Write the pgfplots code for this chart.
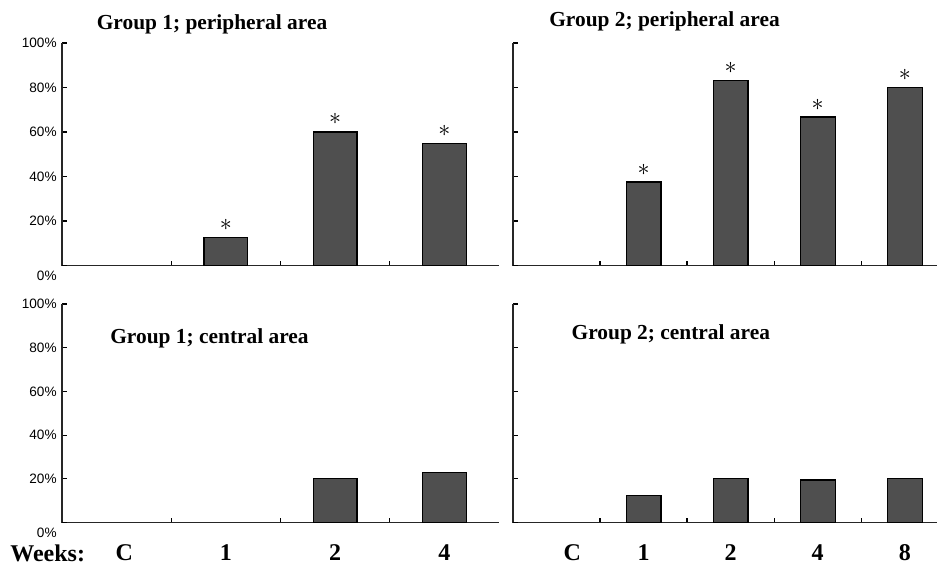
\documentclass[border=0pt]{standalone}
\usepackage{pgfplots}
\pgfplotsset{compat=1.18}
\usepackage{fontspec}
\setmainfont{Liberation Serif}
\newfontfamily\arial{Liberation Sans}
\definecolor{barfill}{HTML}{4F4F4F}
\pgfplotsset{
  panel/.style={
    scale only axis,
    axis lines=left,
    axis line style={-, line width=0.8pt, black!85},
    ymin=0, ymax=100,
    xmin=-0.5,
    ybar, bar width=0.4, bar shift=0pt,
    ytick={20,40,60,80,100},
    yticklabels={},
    extra y ticks={0},
    extra y tick labels={},
    tick align=inside,
    major tick length=2.5pt,
    major x tick style={draw=none},
    minor x tick style={line width=0.7pt, black},
    minor tick length=2.5pt,
    ytick style={line width=0.6pt, black},
    xticklabels={},
    tick label style={font=\arial\fontsize{6.8}{7}\selectfont},
    clip=false,
  },
  leftlabels/.style={
    yticklabels={20\%,40\%,60\%,80\%,100\%},
    extra y tick labels={0\%},
    extra y tick style={yticklabel style={yshift=-5pt}},
    yticklabel style={inner sep=1pt, xshift=-1.5pt},
  },
  xlab/.style={
    xticklabel style={font=\bfseries\fontsize{12}{12}\selectfont, anchor=base, inner sep=0pt, yshift=-19.2pt},
  },
  bars/.style={fill=barfill, draw=black, line width=0.6pt},
  stars/.style={nodes near coords={$\ast$},
    every node near coord/.append style={font=\fontsize{12}{12}\selectfont, anchor=center, yshift=6.3pt, inner sep=0pt}},
}
\begin{document}
\begin{tikzpicture}
\path[use as bounding box] (0,0) rectangle (470pt,282pt);
% top-left
\begin{axis}[panel, leftlabels, at={(31pt,149.25pt)}, anchor=south west,
  width=218.5pt, height=111.25pt, xmax=3.5,
  xtick={0,1,2,3}, minor xtick={0.5,1.5,2.5}]
\addplot[bars, stars] coordinates {(1,12.7) (2,60) (3,55)};
\end{axis}
% top-right
\begin{axis}[panel, at={(256.5pt,149.25pt)}, anchor=south west,
  width=212pt, height=111.25pt, xmax=4.37,
  xtick={0,1,2,3,4}, minor xtick={0.5,1.5,2.5,3.5}]
\addplot[bars, stars] coordinates {(1,37.5) (2,83.3) (3,66.7) (4,80)};
\end{axis}
% bottom-left
\begin{axis}[panel, leftlabels, xlab, at={(31pt,20.75pt)}, anchor=south west,
  width=218.5pt, height=109.25pt, xmax=3.5,
  xtick={0.07,1,2,3}, xticklabels={C,1,2,4}, minor xtick={0.5,1.5,2.5}]
\addplot[bars] coordinates {(2,20.3) (3,22.9)};
\end{axis}
% bottom-right
\begin{axis}[panel, xlab, at={(256.5pt,20.75pt)}, anchor=south west,
  width=212pt, height=109.25pt, xmax=4.37,
  xtick={0.18,1,2,3,4}, xticklabels={C,1,2,4,8}, minor xtick={0.5,1.5,2.5,3.5}]
\addplot[bars] coordinates {(1,12.5) (2,20) (3,19.5) (4,20)};
\end{axis}
% titles
\tikzset{ttl/.style={anchor=base, inner sep=0pt, font=\bfseries\fontsize{10.7}{12}\selectfont}}
\node[ttl] at (106pt,267.3pt) {Group 1; peripheral area};
\node[ttl] at (332.25pt,268.65pt) {Group 2; peripheral area};
\node[ttl] at (104.75pt,110.3pt) {Group 1; central area};
\node[ttl] at (335.4pt,112.3pt) {Group 2; central area};
\node[anchor=base west, inner sep=0pt, font=\bfseries\fontsize{12}{12}\selectfont] at (5pt,1.4pt) {Weeks:};
\end{tikzpicture}
\end{document}
